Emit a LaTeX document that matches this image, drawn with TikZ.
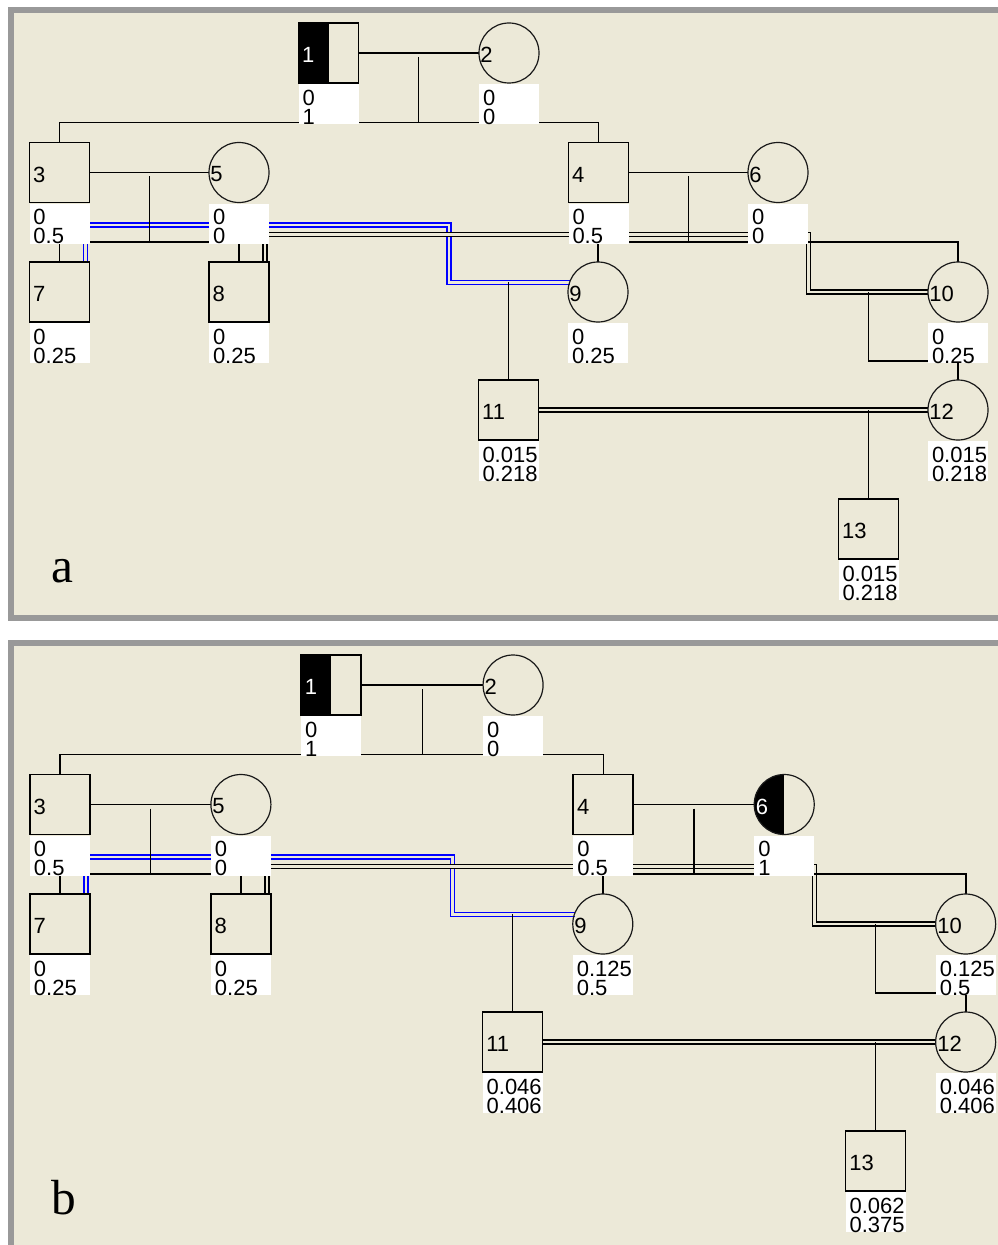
\documentclass[tikz,border=0pt]{standalone}
\usepackage{fontspec}
\setmainfont{Liberation Sans}
\newfontfamily\pedsans{Liberation Sans}
\newfontfamily\pedserif{Liberation Serif}
\usetikzlibrary{calc}

\definecolor{panelbg}{RGB}{236,233,216}
\definecolor{panelframe}{RGB}{153,153,153}
\definecolor{loopblue}{RGB}{0,0,255}

\pgfdeclarelayer{frame}
\pgfdeclarelayer{lines}
\pgfdeclarelayer{boxes}
\pgfsetlayers{frame,lines,boxes,main}

\newcommand\pedfont{\pedsans\fontsize{16.5}{14.25}\selectfont}
% two stacked values, left aligned, baseline at the first line
\newcommand\twolines[2]{\hbox to 39pt{\vtop{\baselineskip=14.25pt\lineskiplimit=-100pt\relax\hbox{#1}\hbox{#2}}\hss}}

\tikzset{
  person/.style={inner sep=0pt, outer sep=0pt, minimum size=45pt},
  male/.style={person, rectangle, draw=black, line width=1.3pt},
  female/.style={person, circle, draw=black!90, line width=0.9pt},
  halfblack/.style={path picture={\fill[black] (path picture bounding box.south west) rectangle (path picture bounding box.north);}},
  numsq/.style={anchor=west, inner xsep=2.6pt, inner ysep=0pt, yshift=-1.5pt, font=\pedfont, text=black},
  numci/.style={numsq, inner xsep=0.9pt},
  val/.style={anchor=north, yshift=-0.75pt, fill=white, inner xsep=3pt, inner ysep=0pt,
    text height=15.75pt, text depth=14.25pt, font=\pedfont},
  link/.style={draw=black, line width=1.1pt},
  dbl/.style={draw=black, line width=0.95pt, double=panelbg, double distance=2.05pt},
  bluedbl/.style={dbl, draw=loopblue},
  panellabel/.style={anchor=base west, inner sep=0pt, font=\pedserif\fontsize{37}{40}\selectfont},
}

% #1 panel letter, #2 extra style of person 6, #3 style of its number,
% #4..#7 value pairs of persons 6, 9/10, 11/12 and 13
\newcommand\pedpanel[7]{%
  \node[male, halfblack] (P1) at (328.5,53) {};
  \node[female] (P2) at (509,53) {};
  \node[male] (P3) at (59.5,172.5) {};
  \node[male] (P4) at (598.5,172.5) {};
  \node[female] (P5) at (239,172.5) {};
  \node[female, #2] (P6) at (778,172.5) {};
  \node[male] (P7) at (59.5,292) {};
  \node[male] (P8) at (239,292) {};
  \node[female] (P9) at (598,292) {};
  \node[female] (P10) at (958,292) {};
  \node[male] (P11) at (508.5,410) {};
  \node[female] (P12) at (958,410) {};
  \node[male] (P13) at (868.5,529) {};
  % identifiers
  \node[numsq, text=white] (t1) at (P1.west) {1};
  \node[numci] (t2) at (P2.west) {2};
  \node[numsq] (t3) at (P3.west) {3};
  \node[numsq] (t4) at (P4.west) {4};
  \node[numci] (t5) at (P5.west) {5};
  \node[numci, #3] (t6) at (P6.west) {6};
  \node[numsq] (t7) at (P7.west) {7};
  \node[numsq] (t8) at (P8.west) {8};
  \node[numci] (t9) at (P9.west) {9};
  \node[numci] (t10) at (P10.west) {10};
  \node[numsq] (t11) at (P11.west) {11};
  \node[numci] (t12) at (P12.west) {12};
  \node[numsq] (t13) at (P13.west) {13};
  \node[panellabel] (lab) at (51,582) {#1};
  % value boxes below each person
  \begin{pgfonlayer}{boxes}
    \node[val] (v1) at (P1.south) {\twolines{0}{1}};
    \node[val] (v2) at (P2.south) {\twolines{0}{0}};
    \node[val] (v3) at (P3.south) {\twolines{0}{0.5}};
    \node[val] (v4) at (P4.south) {\twolines{0}{0.5}};
    \node[val] (v5) at (P5.south) {\twolines{0}{0}};
    \node[val] (v6) at (P6.south) {\twolines#4};
    \node[val] (v7) at (P7.south) {\twolines{0}{0.25}};
    \node[val] (v8) at (P8.south) {\twolines{0}{0.25}};
    \node[val] (v9) at (P9.south) {\twolines#5};
    \node[val] (v10) at (P10.south) {\twolines#5};
    \node[val] (v11) at (P11.south) {\twolines#6};
    \node[val] (v12) at (P12.south) {\twolines#6};
    \node[val] (v13) at (P13.south) {\twolines#7};
  \end{pgfonlayer}
  % marriage, sibship and descent lines
  \begin{pgfonlayer}{lines}
    \coordinate (c12) at ($(P1.east)!.5!(P2.west)$);
    \coordinate (c35) at ($(P3.east)!.5!(P5.west)$);
    \coordinate (c46) at ($(P4.east)!.5!(P6.west)$);
    \draw[bluedbl] ([xshift=-3pt]P7.north east) -- ++(0,-37) -- ++(363.5,0) |- (P9.161);
    \draw[dbl] ([xshift=-3pt]P8.north east) -- ++(0,-27.5) -- ++(543.5,0) |- (P10.west);
    \draw[dbl] (P11.east) -- (P12.west);
    \draw[link] (P1.east) -- (P2.west);
    \draw[link] (P3.east) -- (P5.west);
    \draw[link] (P4.east) -- (P6.west);
    \draw[link] ([yshift=-3pt]c12) -- ++(0,65.5);
    \draw[link] (P3.north) -- ++(0,-20) -| (P4.north);
    \draw[link] ([yshift=-3pt]c35) -- ++(0,66);
    \draw[link] (P7.north) -- ++(0,-20) -| (P8.north);
    \draw[link] ([yshift=-3pt]c46) -- ++(0,66);
    \draw[link] (P9.north) -- ++(0,-20) -| (P10.north);
    \draw[link] (P11.north |- P9.161) -- (P11.north);
    \draw[link] (P13.north |- P10.west) -- ++(0,69) -| (P12.north);
    \draw[link] (P13.north |- P12.west) -- (P13.north);
  \end{pgfonlayer}
}

\begin{document}
\begin{tikzpicture}[x=0.75pt, y=-0.75pt]
  \useasboundingbox (0,0) rectangle (998,1245);
  \begin{pgfonlayer}{frame}
    \fill[white] (0,0) rectangle (998,1245);
    \fill[panelframe] (8,7) rectangle (998,621);
    \fill[panelbg] (14,13) rectangle (998,615);
    \fill[panelframe] (8,640) rectangle (998,1245);
    \fill[panelbg] (14,646) rectangle (998,1245);
  \end{pgfonlayer}
  \begin{scope}[name prefix=a-]
    \pedpanel{a}{}{}{{0}{0}}{{0}{0.25}}{{0.015}{0.218}}{{0.015}{0.218}}
  \end{scope}
  \begin{scope}[name prefix=b-, shift={(0,632)}, xscale=1.008]
    \pedpanel{b}{halfblack}{text=white}{{0}{1}}{{0.125}{0.5}}{{0.046}{0.406}}{{0.062}{0.375}}
  \end{scope}
\end{tikzpicture}
\end{document}
